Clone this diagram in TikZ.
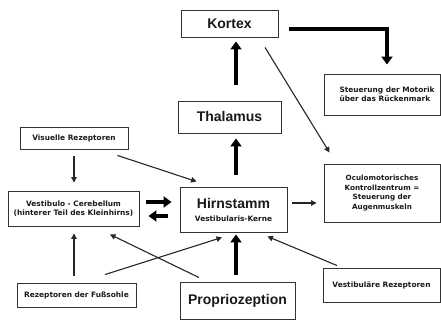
\documentclass[tikz,border=0pt]{standalone}
\usepackage{fontspec}
\setmainfont{Liberation Sans}
\newfontfamily\smallf{DejaVu Sans}
\usetikzlibrary{arrows.meta,calc}
\begin{document}
\begin{tikzpicture}[x=1pt,y=1pt,
  box/.style={draw=black!80, line width=0.9pt, inner sep=0pt, align=center, text=black!90},
  bigt/.style={font=\fontsize{14}{16}\selectfont\bfseries},
  smt/.style={font=\smallf\fontsize{7.4}{9}\selectfont\bfseries},
  thinarr/.style={draw=black!85, line width=1.1pt, -{Triangle[length=5.5pt,width=5.5pt]}},
  thickarr/.style={draw=black, line width=3.6pt, -{Triangle[length=8pt,width=11pt]}}]
\useasboundingbox (0,0) rectangle (441,320);
% nodes
\node[box,bigt,minimum width=97pt,minimum height=27pt] (kort) at (229.5,296.5) {Kortex};
\node[box,bigt,minimum width=103pt,minimum height=32pt] (thal) at (229.5,203) {Thalamus};
\node[box,smt,minimum width=116pt,minimum height=41pt,align=left] (steu) at (382,225.5) {\hspace*{10pt}Steuerung der Motorik\\\hspace*{10pt}über das Rückenmark};
\node[box,smt,minimum width=108pt,minimum height=22pt] (vis) at (74,182) {Visuelle Rezeptoren};
\node[box,smt,minimum width=116pt,minimum height=58pt,font=\smallf\fontsize{7.2}{9.5}\selectfont\bfseries] (ocu) at (382,127) {Oculomotorisches\\Kontrollzentrum =\\Steuerung der\\Augenmuskeln};
\node[box,minimum width=107pt,minimum height=45pt] (hirn) at (233.5,110.5) {{\fontsize{14}{16}\selectfont\bfseries Hirnstamm}\\[1pt]{\smallf\fontsize{7.4}{9}\selectfont\bfseries Vestibularis-Kerne}};
\node[box,smt,minimum width=131pt,minimum height=35pt] (vest) at (73.5,111.5) {Vestibulo - Cerebellum\\(hinterer Teil des Kleinhirns)};
\node[box,smt,minimum width=119pt,minimum height=24pt] (fuss) at (76.5,25) {Rezeptoren der Fußsohle};
\node[box,bigt,minimum width=115pt,minimum height=37pt] (prop) at (237.5,19.5) {Propriozeption};
\node[box,smt,minimum width=117pt,minimum height=34pt] (vrez) at (381.5,35) {Vestibuläre Rezeptoren};
% thick arrows
\draw[thickarr] ($(thal.north)+(6.5,16)$) -- ($(kort.south)+(6.5,-4)$);
\draw[thickarr] ($(hirn.north)+(2.5,12)$) -- ($(thal.south)+(6.5,-5)$);
\draw[thickarr] ($(prop.north)+(-1.5,7)$) -- ($(hirn.south)+(2.5,-2)$);
\draw[thickarr] ($(kort.east)+(11,-5.5)$) -| ($(steu.north)+(5,9)$);
\draw[thickarr] ($(vest.east)+(7,6.5)$) -- ($(hirn.west)+(-8,7.5)$);
\draw[thickarr] ($(hirn.west)+(-12,-6.5)$) -- ($(vest.east)+(9,-7.5)$);
% thin arrows
\draw[thinarr] ($(kort.south)+(35.5,-10)$) -- ($(ocu.north west)+(6,11)$);
\draw[thinarr] ($(vis.south)+(0,-7)$) -- ($(vest.north)+(0.5,8)$);
\draw[thinarr] ($(vis.south east)+(-11,-6)$) -- ($(hirn.north west)+(17,5)$);
\draw[thinarr] ($(hirn.east)+(5,6.5)$) -- ($(ocu.west)+(-7,-10)$);
\draw[thinarr] ($(fuss.north)+(-2.5,7)$) -- ($(vest.south)+(0.5,-7)$);
\draw[thinarr] ($(fuss.north)+(28.5,8)$) -- ($(hirn.south)+(-11.5,-5)$);
\draw[thinarr] ($(prop.north)+(-38.5,4)$) -- ($(vest.south)+(36.5,-8)$);
\draw[thinarr] ($(vrez.north)+(-44.5,2)$) -- ($(hirn.south east)+(-20,-4)$);
\end{tikzpicture}
\end{document}
